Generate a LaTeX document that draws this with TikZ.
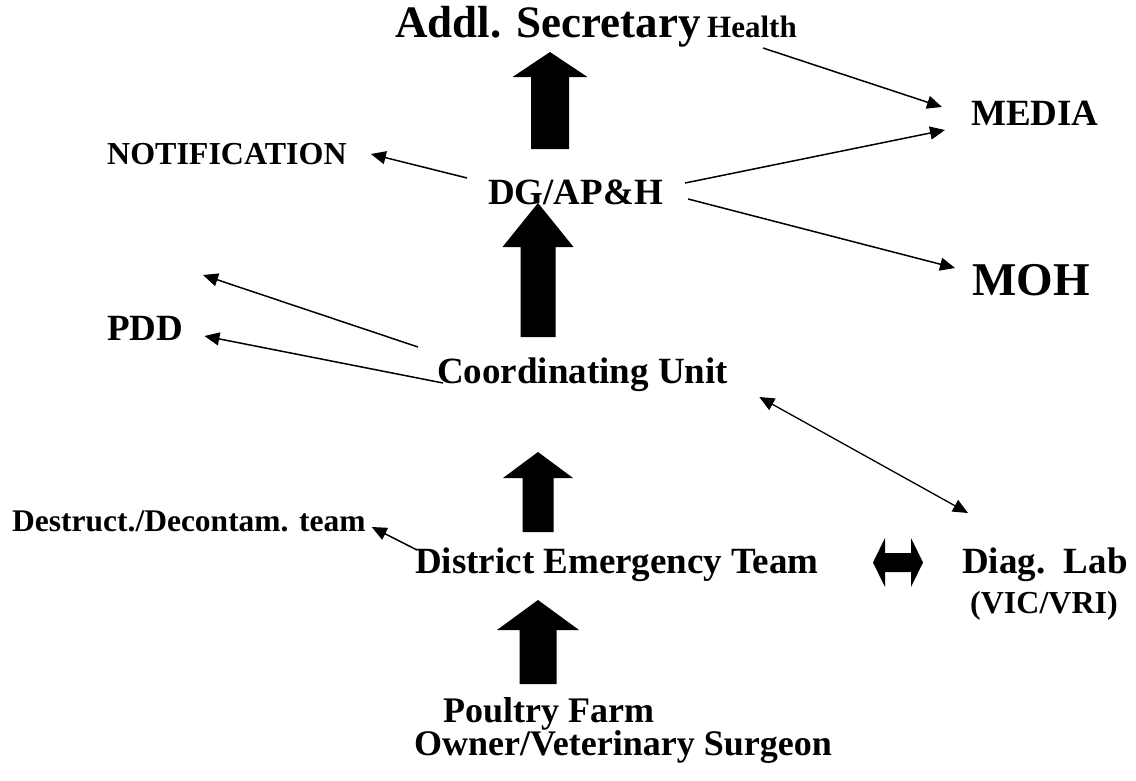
\documentclass[tikz,border=0pt]{standalone}
\usepackage{fontspec}
\setmainfont{Liberation Serif}
\usetikzlibrary{arrows.meta}

% filled block arrow pointing up: tip x, tip y, head base y, head half width, shaft half width, bottom y
\newcommand{\bigup}[6]{%
\fill (#1,#2) -- (#1+#4,#3) -- (#1+#5,#3) -- (#1+#5,#6) -- (#1-#5,#6) -- (#1-#5,#3) -- (#1-#4,#3) -- cycle;}

\begin{document}
\begin{tikzpicture}[x=1pt,y=-1pt,
  txt/.style={inner sep=0pt,anchor=base west,font=\bfseries\fontsize{#1}{#1}\selectfont},
  link/.style={-{Triangle[length=15pt,width=13pt]},line width=1.5pt},
  twolink/.style={{Triangle[length=15pt,width=13pt]}-{Triangle[length=15pt,width=13pt]},line width=1.3pt}]

\useasboundingbox (0,0) rectangle (1136,780);

\node[txt=45] (sec) at (395,37) {Addl. Secretary};
\node[txt=31] (health) at (707,37) {Health};
\node[txt=32] (notif) at (107,164) {NOTIFICATION};
\node[txt=37] (dg) at (488,204) {DG/AP\&H};
\node[txt=37] (media) at (971,125) {MEDIA};
\node[txt=47] (moh) at (972,295) {MOH};
\node[txt=37] (pdd) at (107,340) {PDD};
\node[txt=37] (coord) at (437,383) {Coordinating Unit};
\node[txt=31.5] (destruct) at (12,531) {Destruct./Decontam. team};
\node[txt=37] (district) at (415,573) {District Emergency Team};
\node[txt=37] (diag) at (962,573) {Diag.\ \ Lab};
\node[txt=32] (vic) at (970,613) {(VIC/VRI)};
\node[txt=36] (farm) at (443,722) {Poultry Farm};
\node[txt=36] (owner) at (414,755) {Owner/Veterinary Surgeon};

\coordinate (pddup) at (203,275);

% reporting chain
\bigup{550}{52}{77}{37.5}{19}{149}
\bigup{538}{203}{247}{35.5}{17.5}{337}
\bigup{538}{452}{478}{35}{15.5}{532}
\bigup{538}{600}{630}{41}{18.5}{684}

\fill (873,562.5) -- (885,538) -- (885,553) -- (911,553) -- (911,538) -- (923,562.5)
  -- (911,587) -- (911,572) -- (885,572) -- (885,587) -- cycle;

\draw[link] ([xshift=-21pt,yshift=26pt]dg.base west) -- ([xshift=24pt,yshift=10pt]notif.base east);
\draw[link] ([xshift=56pt,yshift=-11pt]health.base west) -- ([xshift=-29pt,yshift=18pt]media.base west);
\draw[link] ([xshift=22pt,yshift=21pt]dg.base east) -- ([xshift=-26pt,yshift=-5pt]media.base west);
\draw[link] ([xshift=25pt,yshift=5pt]dg.base east) -- ([xshift=-17pt,yshift=27pt]moh.base west);
\draw[link] ([xshift=-19pt,yshift=36pt]coord.base west) -- (pddup);
\draw[link] ([xshift=6pt]coord.base west) -- ([xshift=21pt,yshift=4pt]pdd.base east);
\draw[twolink] ([xshift=31pt,yshift=-14pt]coord.base east) -- ([xshift=6pt,yshift=60pt]diag.base west);
\draw[link] ([xshift=2pt,yshift=23pt]district.base west) -- ([xshift=6pt,yshift=4pt]destruct.base east);

\end{tikzpicture}
\end{document}
